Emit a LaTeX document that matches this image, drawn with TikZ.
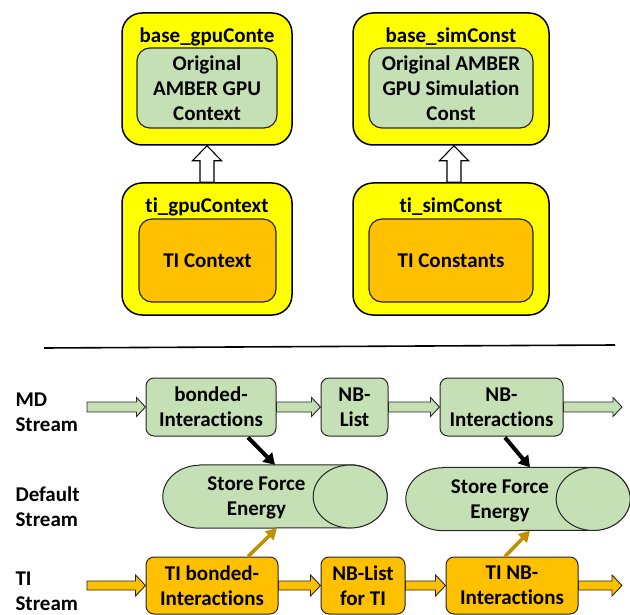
\documentclass[tikz,border=0pt]{standalone}
\usepackage{fontspec}
\setmainfont{Carlito}[Ligatures=NoCommon]
\usetikzlibrary{calc,arrows.meta}
\definecolor{yel}{HTML}{FFFF00}
\definecolor{grn}{HTML}{C5E0B4}
\definecolor{org}{HTML}{FFC000}
\definecolor{gld}{HTML}{BF9000}
% style, from, to, shaft half, head half, head length
\newcommand{\blockarrow}[6]{%
  \draw[#1] let \p1=(#2), \p2=(#3) in
    (\x1,\y1+#4) -- (\x2-#6,\y1+#4) -- (\x2-#6,\y1+#5) -- (\x2,\y1)
    -- (\x2-#6,\y1-#5) -- (\x2-#6,\y1-#4) -- (\x1,\y1-#4) -- cycle;}
% hollow vertical arrow: from (lower), to (upper)
\newcommand{\hollowup}[2]{%
  \draw[hollowarr] let \p1=(#1), \p2=(#2) in
    (\x1-7pt,\y1) -- (\x1-7pt,\y2-15pt) -- (\x1-14.5pt,\y2-15pt) -- (\x1,\y2)
    -- (\x1+14.5pt,\y2-15pt) -- (\x1+7pt,\y2-15pt) -- (\x1+7pt,\y1) -- cycle;}
% cylinder outline from an invisible node
\newcommand{\cylinderfrom}[1]{%
  \draw[cylstyle] let \p1=(#1.north west), \p2=(#1.south east) in
    (\x1+37pt,\y1) -- (\x2-37pt,\y1)
    arc[start angle=90,end angle=-90,x radius=37pt,y radius=31.5pt]
    -- (\x1+37pt,\y2)
    arc[start angle=270,end angle=90,x radius=37pt,y radius=31.5pt] -- cycle;
  \draw[cylstyle] let \p1=(#1.north west), \p2=(#1.south east) in
    (\x2-37pt,{(\y1+\y2)/2}) ellipse [x radius=37pt,y radius=31.5pt];}
\begin{document}
\begin{tikzpicture}[x=1pt,y=-1pt,
  txt/.style={font=\fontsize{21}{25}\selectfont\bfseries, text=black, align=center},
  ybox/.style={draw=black, line width=1.5pt, fill=yel, rounded corners=20pt, minimum height=132pt},
  gbox/.style={txt, draw=black!85, line width=1.2pt, fill=grn, rounded corners=13pt, minimum height=80pt, inner sep=1pt},
  obox/.style={txt, draw=black!85, line width=1.2pt, fill=org, rounded corners=13pt, minimum height=83pt, inner sep=1pt},
  sgbox/.style={txt, draw=black!85, line width=1pt, fill=grn, rounded corners=8pt, minimum height=58pt, inner sep=1pt},
  sobox/.style={txt, draw=black!85, line width=1pt, fill=org, rounded corners=8pt, minimum height=57pt, inner sep=1pt},
  title/.style={txt},
  lbl/.style={txt, align=left, anchor=west},
  hollowarr/.style={draw=black, line width=1.1pt, fill=white},
  garr/.style={draw=black!85, line width=0.9pt, fill=grn},
  oarr/.style={draw=black!85, line width=0.9pt, fill=org},
  cylstyle/.style={draw=black!85, line width=1pt, fill=grn},
  cylbox/.style={draw=none, minimum width=224pt, minimum height=63pt, inner sep=0pt},
  blackarr/.style={draw=black, line width=4pt, -{Triangle[length=11pt,width=13pt]}},
  goldarr/.style={draw=gld, line width=3.5pt, -{Triangle[length=11pt,width=12pt]}}
]
\useasboundingbox (0,0) rectangle (630,615);

% ---------- top part ----------
\node[ybox, minimum width=170pt] (yb1) at (207,79) {};
\node[ybox, minimum width=196pt] (yb3) at (451,79) {};
\node[ybox, minimum width=170pt] (yb2) at (207,249) {};
\node[ybox, minimum width=196pt] (yb4) at (451,249) {};

\node[title] (t1) at (207,37) {base\_gpuConte};
\node[title] (t3) at (451,37) {base\_simConst};
\node[title] (t2) at (207,207) {ti\_gpuContext};
\node[title] (t4) at (451,207) {ti\_simConst};

\node[gbox, minimum width=140pt] (g1) at (207,88) {Original\\AMBER GPU\\Context};
\node[gbox, minimum width=164pt] (g2) at (451,88) {Original AMBER\\GPU Simulation\\Const};
\node[obox, minimum width=137pt] (o1) at (207.5,260.5) {TI Context};
\node[obox, minimum width=164pt] (o2) at (451,260.5) {TI Constants};

\hollowup{yb2.north}{yb1.south}
\hollowup{$(yb4.north)+(3,0)$}{yb3.south}

% separator
\coordinate (sepL) at (44,348);
\coordinate (sepR) at (615,345);
\draw[line width=1.6pt] (sepL) -- (sepR);

% ---------- stream part ----------
\node[lbl] (lmd) at (12,412) {MD\\Stream};
\node[lbl] (ldef) at (12,507) {Default\\Stream};
\node[lbl] (lti) at (12,591) {TI\\Stream};

\node[sgbox, minimum width=130pt] (bonded) at (211,407) {bonded-\\Interactions};
\node[sgbox, minimum width=67pt] (nblist) at (354.5,407) {NB-\\List};
\node[sgbox, minimum width=123pt] (nbint) at (501.5,407) {NB-\\Interactions};

\node[sobox, minimum width=132pt] (tibonded) at (212,585.5) {TI bonded-\\Interactions};
\node[sobox, minimum width=84pt] (tinblist) at (363,585.5) {NB-List\\for TI};
\node[sobox, minimum width=132pt] (tinbint) at (512,585.5) {TI NB-\\Interactions};

\node[cylbox] (cyl1) at (275,496.5) {};
\node[cylbox] (cyl2) at (518,499) {};
\cylinderfrom{cyl1}
\cylinderfrom{cyl2}
\node[txt] (store1) at (256.5,498) {Store Force\\Energy};
\node[txt] (store2) at (500,500.5) {Store Force\\Energy};

\coordinate (mdstart) at (87,407);
\coordinate (mdend) at (622,407);
\coordinate (tistart) at (87,585.5);
\coordinate (tiend) at (622,585.5);

\blockarrow{garr}{mdstart}{bonded.west}{5pt}{9.5pt}{9pt}
\blockarrow{garr}{bonded.east}{nblist.west}{5pt}{9.5pt}{9pt}
\blockarrow{garr}{nblist.east}{nbint.west}{5pt}{9.5pt}{9pt}
\blockarrow{garr}{nbint.east}{mdend}{5pt}{9.5pt}{9pt}

\blockarrow{oarr}{tistart}{tibonded.west}{4.5pt}{10.5pt}{10pt}
\blockarrow{oarr}{tibonded.east}{tinblist.west}{4.5pt}{10.5pt}{10pt}
\blockarrow{oarr}{tinblist.east}{tinbint.west}{4.5pt}{10.5pt}{10pt}
\blockarrow{oarr}{tinbint.east}{tiend}{4.5pt}{10.5pt}{10pt}

\draw[blackarr] ($(bonded.south)+(37,1)$) -- (cyl1.north);
\draw[blackarr] ($(nbint.south)+(3.5,1)$) -- ($(cyl2.north)+(12,0)$);
\draw[goldarr] ($(tibonded.north)+(36,0)$) -- ($(cyl1.south)+(2,0)$);
\draw[goldarr] ($(tinbint.north)+(-7,0)$) -- ($(cyl2.south)+(12,0)$);
\end{tikzpicture}
\end{document}
